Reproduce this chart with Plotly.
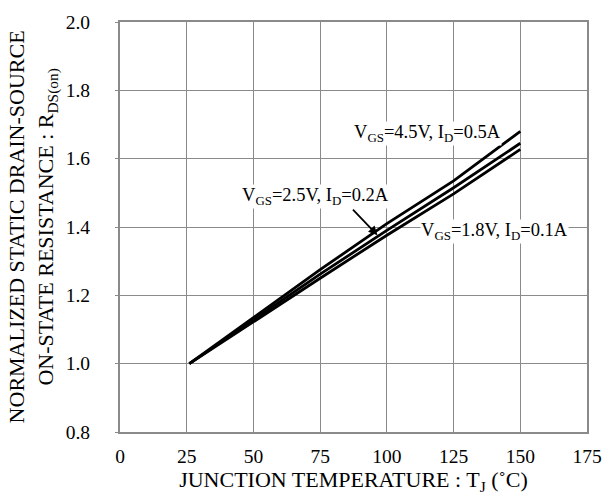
import plotly.graph_objects as go

temps = [26, 50, 75, 100, 125, 150]
r_45v = [1.0, 1.135, 1.275, 1.41, 1.535, 1.68]
r_25v = [1.0, 1.128, 1.262, 1.39, 1.515, 1.645]
r_18v = [1.0, 1.123, 1.25, 1.376, 1.497, 1.627]

x_ticks = [0, 25, 50, 75, 100, 125, 150, 175]
y_ticks = [0.8, 1.0, 1.2, 1.4, 1.6, 1.8, 2.0]

FONT = "Liberation Serif, Times New Roman, serif"
GRID = "#8a8a8a"

fig = go.Figure()
for ys in (r_45v, r_25v, r_18v):
    fig.add_trace(go.Scatter(x=temps, y=ys, mode="lines",
                             line=dict(color="black", width=2.8),
                             showlegend=False, hoverinfo="skip"))

fig.update_layout(
    width=614, height=503,
    margin=dict(l=120, r=17, t=15, b=71),
    paper_bgcolor="white", plot_bgcolor="white",
    font=dict(family=FONT, size=19.5, color="black"),
)
fig.update_xaxes(range=[0, 175], tickvals=x_ticks,
                 ticktext=[str(v) for v in x_ticks],
                 showgrid=True, gridcolor=GRID, gridwidth=1,
                 showline=True, linecolor=GRID, linewidth=2, mirror=True,
                 ticks="", zeroline=False, ticklabelstandoff=6,
                 tickfont=dict(size=19.5),
                 title=dict(text="JUNCTION TEMPERATURE : T<sub>J</sub> (˚C)",
                            standoff=0, font=dict(size=22)))
fig.update_yaxes(range=[0.8, 2.0], tickvals=y_ticks,
                 ticktext=["%.1f" % v for v in y_ticks],
                 showgrid=True, gridcolor=GRID, gridwidth=1,
                 showline=True, linecolor=GRID, linewidth=2, mirror=True,
                 ticks="outside", ticklen=3, tickcolor=GRID,
                 tickfont=dict(size=19.5),
                 zeroline=False, ticklabelstandoff=21)

fig.add_annotation(xref="paper", yref="paper", x=-0.1876, y=0.5,
                   text="NORMALIZED STATIC DRAIN-SOURCE<br>ON-STATE RESISTANCE : R<sub>DS(on)</sub>",
                   textangle=-90, showarrow=False, xanchor="center", yanchor="middle",
                   font=dict(size=22))

fig.add_annotation(x=115.2, y=1.675, text="V<sub>GS</sub>=4.5V, I<sub>D</sub>=0.5A",
                   showarrow=False, bgcolor="white", font=dict(size=18.5), borderpad=0)
fig.add_annotation(x=73.4, y=1.488, text="V<sub>GS</sub>=2.5V, I<sub>D</sub>=0.2A",
                   showarrow=False, bgcolor="white", font=dict(size=18.5), borderpad=0)
fig.add_annotation(x=96.5, y=1.376, ax=-26, ay=-27, text="",
                   showarrow=True, arrowhead=2, arrowsize=1, arrowwidth=1.8,
                   arrowcolor="black")
fig.add_annotation(x=140.5, y=1.387, text="V<sub>GS</sub>=1.8V, I<sub>D</sub>=0.1A",
                   showarrow=False, bgcolor="white", font=dict(size=18.5), borderpad=0)

fig.write_html("out.html")
